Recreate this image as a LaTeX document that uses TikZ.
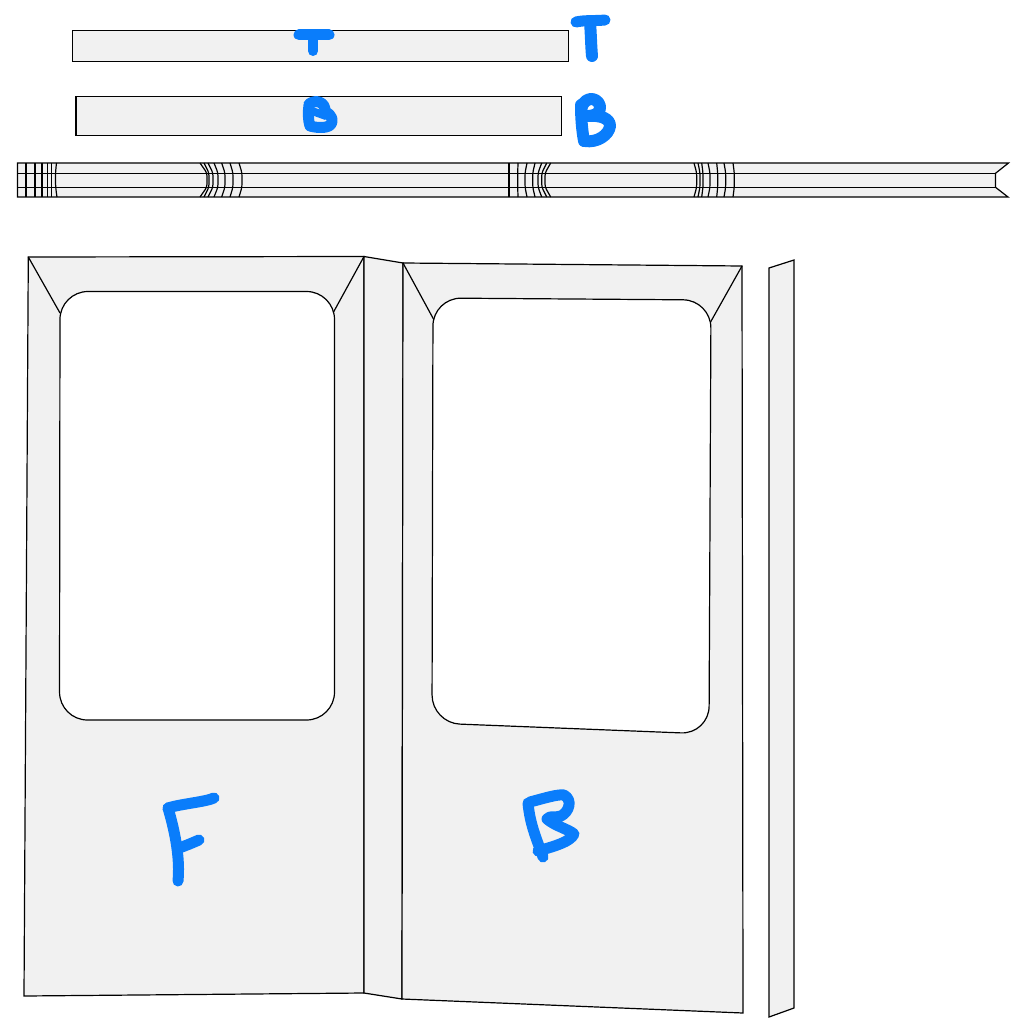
\documentclass[tikz,border=0pt]{standalone}
\definecolor{panelgrey}{HTML}{F1F1F1}
\definecolor{penblue}{HTML}{0A7DFB}
\tikzset{
  panel/.style={draw=black,fill=panelgrey,line width=1.2pt,line join=miter},
  edge/.style={draw=black,line width=1.2pt},
  fold/.style={draw=black,line width=1.2pt,rounded corners=3pt},
  glass/.style={draw=black,fill=white,line width=1.2pt},
  pen/.style={draw=penblue,line cap=round,line join=round,line width=#1},
  pen/.default=11pt
}
\begin{document}
\begin{tikzpicture}[x=1pt,y=-1pt]
\useasboundingbox (0,0) rectangle (1024,1024);
% top strips
\path[panel] (72.5,30.5) rectangle (568.5,61.5);
\path[panel] (76,96.5) rectangle (561.5,135.5);
% long strip
\path[panel] (17.5,163) -- (1008.5,163) -- (995.5,173.3) -- (995.5,187.3) -- (1008,197) -- (17.5,197) -- cycle;
\draw[edge] (17.5,173.3) -- (995.5,173.3);
\draw[edge] (17.5,187.3) -- (995.5,187.3);
% ticks left
\foreach \x in {26,35,42,47.7,51.7}{\draw[edge] (\x,163) -- (\x,197);}
\draw[edge] (56.5,163) .. controls (55,175) and (55,185) .. (57,197);
% ticks group 2
\foreach \a/\b in {200/207,204/209,208/213,214/218,221.7/225,230/233,239/242}{
  \draw[fold] (\a,163) -- (\b,173) -- (\b,187) -- (\a,197);}
% ticks group 3
\foreach \a/\b in {509/509,518/517.7,527/525,535/532.7,541.7/538,546.7/541.7,550.7/545}{
  \draw[fold] (\a,163) -- (\b,173) -- (\b,187) -- (\a,197);}
% ticks group 4
\foreach \a/\b in {694/696.7,698/700,701.7/703,708/710,716.7/717.7,724/725.7,733/734.3}{
  \draw[fold] (\a,163) -- (\b,173) -- (\b,187) -- (\a,197);}
% left door
\path[panel] (28.3,257) -- (364,256.5) -- (364,993) -- (24,996) -- cycle;
\draw[edge] (28.3,257) -- (60,313);
\draw[edge] (364,256.5) -- (333,313);
\path[glass,rounded corners=28pt] (60,291.5) -- (334.5,291.5) -- (334.5,720) -- (59.5,720) -- cycle;
% joint
\path[panel] (364,256.5) -- (403,263) -- (402,999) -- (364,993) -- cycle;
% right door
\path[panel] (403,263) -- (742,266) -- (743,1013) -- (402,999) -- cycle;
\draw[edge] (403,263) -- (434,320);
\draw[edge] (742,266) -- (710,323);
\path[glass,rounded corners=28pt] (433,298) -- (711,300) -- (709,734) -- (432,723) -- cycle;
% side strip
\path[panel] (769,268) -- (794,260) -- (794,1008) -- (769,1017) -- cycle;
% handwriting
\draw[pen=11pt] (299,35) -- (329,35);
\draw[pen=10pt] (313,36) -- (313,51);
\draw[pen=11pt] (576,22) .. controls (585,20) and (595,21) .. (605,20);
\draw[pen=12pt] (590,22) .. controls (591,35) and (591,45) .. (592,56);
\draw[pen=11pt] (309,105) .. controls (308,112) and (308,120) .. (310,126);
\draw[pen=11pt] (309,104) .. controls (316,99) and (326,102) .. (325,112) .. controls (332,114) and (335,122) .. (329,126) .. controls (322,129) and (314,127) .. (310,126);
\draw[pen=8pt] (312,111) -- (326,116);
\draw[pen=12pt] (581,105) .. controls (581,118) and (582,130) .. (584,141);
\draw[pen=12pt] (581,112) .. controls (581,97) and (597,95) .. (600,106) .. controls (601,112) and (596,116) .. (587,116) .. controls (600,115) and (610,118) .. (610,126) .. controls (609,135) and (597,143) .. (585,141);
\draw[pen=11pt] (214,798) .. controls (205,802) and (180,804) .. (168,808);
\draw[pen=11pt] (168,808) .. controls (176,835) and (180,860) .. (178,881);
\draw[pen=11pt] (179,848) .. controls (185,846) and (192,843) .. (199,840);
\draw[pen=11pt] (528,803) .. controls (530,825) and (537,840) .. (543,857);
\draw[pen=11pt] (530,802) .. controls (545,798) and (558,794) .. (564,795) .. controls (573,800) and (569,812) .. (561,816) .. controls (555,818) and (550,815) .. (547,819) .. controls (555,826) and (568,829) .. (574,834) .. controls (570,842) and (555,846) .. (538,851);
\end{tikzpicture}
\end{document}
